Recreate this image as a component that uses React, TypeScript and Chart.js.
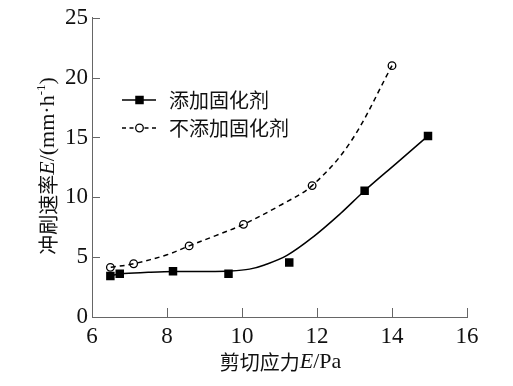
import React, { useEffect, useRef } from "react";
import { Chart, registerables } from "chart.js";

Chart.register(...registerables);

// Measured points: with curing agent (filled squares)
const withAgentX = [6.49, 6.74, 8.16, 9.64, 11.26, 13.27, 14.96];
const withAgentY = [3.43, 3.62, 3.82, 3.62, 4.56, 10.55, 15.13];
// Measured points: without curing agent (open circles)
const withoutAgentX = [6.49, 7.11, 8.59, 10.04, 11.87, 14.0];
const withoutAgentY = [4.15, 4.45, 5.94, 7.74, 10.98, 21.0];
// Fitted curves
const fitWithX = [6.5, 6.75, 7.5, 8.2, 9.0, 9.7, 10.2, 10.6, 11.2, 11.9, 12.62, 13.27, 14.1, 14.96];
const fitWithY = [3.45, 3.62, 3.73, 3.8, 3.8, 3.85, 4.0, 4.35, 5.15, 6.7, 8.63, 10.55, 12.8, 15.13];
const fitWithoutX = [6.5, 7.11, 8.0, 8.59, 9.3, 10.04, 11.0, 11.87, 12.89, 14.0];
const fitWithoutY = [4.15, 4.45, 5.2, 5.94, 6.8, 7.74, 9.3, 10.98, 14.6, 21.0];

const xTicks = [6, 8, 10, 12, 14, 16];
const yTicks = [0, 5, 10, 15, 20, 25];
const legendLabels = ["添加固化剂", "不添加固化剂"];

const CJK = '"Noto Sans CJK SC"';
const SERIF = '"Liberation Serif", "DejaVu Serif", serif';
const INK = "#111";
const AXIS = "#666";

const pts = (xs: number[], ys: number[]) => xs.map((x, i) => ({ x, y: ys[i] }));

type Seg = { t: string; f: string; sup?: boolean };

function drawSegs(ctx: CanvasRenderingContext2D, segs: Seg[], cx: number, cy: number) {
  let total = 0;
  const widths = segs.map((s) => {
    ctx.font = s.f;
    const w = ctx.measureText(s.t).width;
    total += w;
    return w;
  });
  let x = cx - total / 2;
  ctx.textAlign = "left";
  ctx.textBaseline = "middle";
  segs.forEach((s, i) => {
    ctx.font = s.f;
    ctx.fillText(s.t, x, s.sup ? cy - 6 : cy);
    x += widths[i];
  });
}

const decorPlugin = {
  id: "decor",
  afterDraw(chart: any) {
    const ctx: CanvasRenderingContext2D = chart.ctx;
    const xs = chart.scales.x;
    const ys = chart.scales.y;
    const area = chart.chartArea;
    ctx.save();
    // inward ticks
    ctx.strokeStyle = AXIS;
    ctx.lineWidth = 1;
    ctx.beginPath();
    yTicks.forEach((v) => {
      const p = Math.round(ys.getPixelForValue(v)) + 0.5;
      ctx.moveTo(area.left, p);
      ctx.lineTo(area.left + 8, p);
    });
    xTicks.forEach((v) => {
      const p = Math.round(xs.getPixelForValue(v)) + 0.5;
      ctx.moveTo(p, area.bottom);
      ctx.lineTo(p, area.bottom - 9);
    });
    ctx.stroke();

    // axis titles
    ctx.fillStyle = INK;
    drawSegs(
      ctx,
      [
        { t: "剪切应力", f: `20px ${CJK}` },
        { t: "E", f: `italic 22px ${SERIF}` },
        { t: "/Pa", f: `22px ${SERIF}` },
      ],
      (area.left + area.right) / 2 + 1,
      362
    );
    ctx.save();
    ctx.translate(48, 166);
    ctx.rotate(-Math.PI / 2);
    drawSegs(
      ctx,
      [
        { t: "冲刷速率", f: `20px ${CJK}` },
        { t: "E", f: `italic 22px ${SERIF}` },
        { t: "/(mm·h", f: `22px ${SERIF}` },
        { t: "-1", f: `13px ${SERIF}`, sup: true },
        { t: ")", f: `22px ${SERIF}` },
      ],
      0,
      0
    );
    ctx.restore();

    // legend
    const lx0 = 122, lx1 = 156, mx = 139.5;
    const r1 = 100, r2 = 128;
    ctx.strokeStyle = "#000";
    ctx.lineWidth = 1.5;
    ctx.setLineDash([]);
    ctx.beginPath();
    ctx.moveTo(lx0, r1);
    ctx.lineTo(lx1, r1);
    ctx.stroke();
    ctx.fillStyle = "#000";
    ctx.fillRect(mx - 4.25, r1 - 4.25, 8.5, 8.5);
    ctx.setLineDash([4, 3.5]);
    ctx.beginPath();
    ctx.moveTo(lx0, r2);
    ctx.lineTo(lx1, r2);
    ctx.stroke();
    ctx.setLineDash([]);
    ctx.beginPath();
    ctx.arc(mx, r2, 3.8, 0, Math.PI * 2);
    ctx.fillStyle = "#fff";
    ctx.fill();
    ctx.lineWidth = 1.3;
    ctx.stroke();
    ctx.fillStyle = INK;
    ctx.font = `20px ${CJK}`;
    ctx.textAlign = "left";
    ctx.textBaseline = "middle";
    ctx.fillText(legendLabels[0], 169, r1);
    ctx.fillText(legendLabels[1], 169, r2);
    ctx.restore();
  },
};

export default function App() {
  const ref = useRef<HTMLCanvasElement | null>(null);
  useEffect(() => {
    if (!ref.current) return;
    const chart = new Chart(ref.current, {
      type: "line",
      data: {
        datasets: [
          {
            label: "fit-without",
            data: pts(fitWithoutX, fitWithoutY),
            borderColor: "#000",
            borderWidth: 1.5,
            borderDash: [5, 4],
            pointRadius: 0,
            tension: 0.35,
            fill: false,
          },
          {
            label: "fit-with",
            data: pts(fitWithX, fitWithY),
            borderColor: "#000",
            borderWidth: 1.5,
            pointRadius: 0,
            tension: 0.35,
            fill: false,
          },
          {
            label: legendLabels[1],
            data: pts(withoutAgentX, withoutAgentY),
            showLine: false,
            pointStyle: "circle",
            pointRadius: 3.8,
            pointBorderWidth: 1.3,
            pointBorderColor: "#000",
            pointBackgroundColor: "#fff",
          },
          {
            label: legendLabels[0],
            data: pts(withAgentX, withAgentY),
            showLine: false,
            pointStyle: "rect",
            pointRadius: 6,
            pointBorderWidth: 0,
            pointBorderColor: "#000",
            pointBackgroundColor: "#000",
          },
        ] as any,
      },
      options: {
        animation: false,
        responsive: false,
        events: [],
        layout: { padding: { top: 16, right: 46, left: 0, bottom: 0 } },
        plugins: { legend: { display: false }, tooltip: { enabled: false } },
        scales: {
          x: {
            type: "linear",
            min: 6,
            max: 16,
            afterFit: (s: any) => {
              s.height = 69;
            },
            afterBuildTicks: (s: any) => {
              s.ticks = xTicks.map((v) => ({ value: v }));
            },
            ticks: {
              color: INK,
              padding: 6,
              font: { family: SERIF, size: 23 },
              maxRotation: 0,
            },
            grid: { display: true, drawOnChartArea: false, drawTicks: false },
            border: { display: true, color: AXIS, width: 1 },
          },
          y: {
            type: "linear",
            min: 0,
            max: 25,
            afterFit: (s: any) => {
              s.width = 92;
            },
            afterBuildTicks: (s: any) => {
              s.ticks = yTicks.map((v) => ({ value: v }));
            },
            ticks: {
              color: INK,
              padding: 4,
              font: { family: SERIF, size: 23 },
            },
            grid: { display: true, drawOnChartArea: false, drawTicks: false },
            border: { display: true, color: AXIS, width: 1 },
          },
        },
      } as any,
      plugins: [decorPlugin],
    });
    return () => chart.destroy();
  }, []);
  return (
    <div style={{ position: "fixed", left: 0, top: 0, width: 513, height: 386, background: "#fff" }}>
      <canvas ref={ref} width={513} height={386} style={{ display: "block" }} />
    </div>
  );
}
